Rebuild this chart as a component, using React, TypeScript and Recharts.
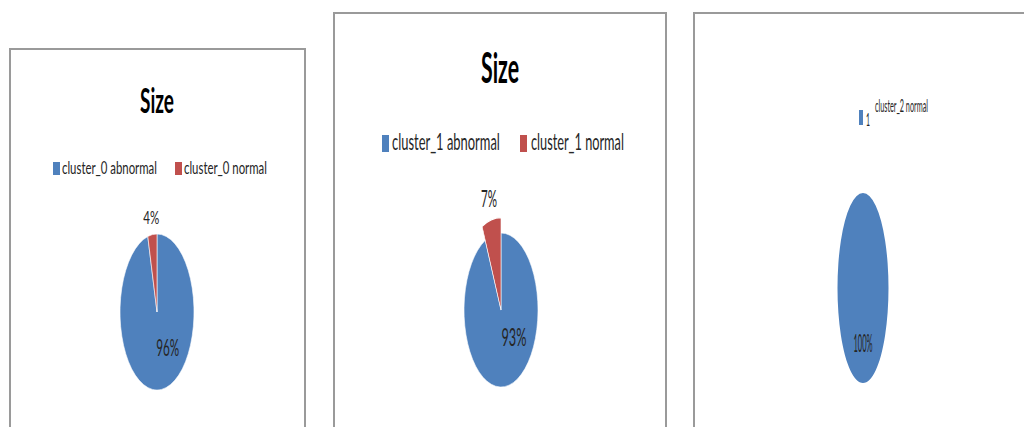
import { Cell, Pie, PieChart } from "recharts";

const FONT = "Lato, 'Open Sans', sans-serif";
const TEXT = "#262626";
const sliceColors = ["#4F81BD", "#C0504D"];

// chart data
const chartTitles = ["Size", "Size", ""];
const cluster0Names = ["cluster_0 abnormal", "cluster_0 normal"];
const cluster0Values = [96, 4];
const cluster1Names = ["cluster_1 abnormal", "cluster_1 normal"];
const cluster1Values = [93, 7];
const cluster2Names = ["1"];
const cluster2Values = [100];
const cluster2Series = "cluster_2 normal";

type Slice = { name: string; value: number };
const toSlices = (names: string[], values: number[]): Slice[] =>
  names.map((name, i) => ({ name, value: values[i] }));

type PieSpec = {
  data: Slice[];
  cx: number;
  cy: number;
  rx: number;
  ry: number;
  explode?: number;
  explodeScale?: number;
  inside: [number, number];
  labelFont: number[];
  labelWidth: number[];
};

const pies: PieSpec[] = [
  {
    data: toSlices(cluster0Names, cluster0Values),
    cx: 157, cy: 312, rx: 37, ry: 78,
    inside: [0.29, 0.45], labelFont: [23, 18], labelWidth: [23, 16],
  },
  {
    data: toSlices(cluster1Names, cluster1Values),
    cx: 501, cy: 310, rx: 37, ry: 77,
    explode: 1, explodeScale: 1.2,
    inside: [0.35, 0.34], labelFont: [25, 23], labelWidth: [25, 16],
  },
  {
    data: toSlices(cluster2Names, cluster2Values),
    cx: 862.5, cy: 288, rx: 25.5, ry: 95,
    inside: [0, 0.57], labelFont: [25], labelWidth: [19],
  },
];

const panels = [
  { left: 9, top: 48, width: 297 },
  { left: 333, top: 12, width: 334 },
  { left: 693, top: 12, width: 420 },
];

const titles = [
  { x: 157, y: 113, size: 35, w: 34 },
  { x: 500, y: 83, size: 42, w: 38 },
];

type LegendLayout = {
  names: string[];
  top: number; h: number; w: number; font: number; baseline: number;
  items: { sx: number; tx: number; tw: number }[];
};

const legends: LegendLayout[] = [
  {
    names: cluster0Names, top: 162, h: 13, w: 7, font: 18, baseline: 174,
    items: [{ sx: 53, tx: 62, tw: 95 }, { sx: 175, tx: 184, tw: 83 }],
  },
  {
    names: cluster1Names, top: 135, h: 17, w: 7, font: 24, baseline: 150,
    items: [{ sx: 382, tx: 392, tw: 108 }, { sx: 520, tx: 531, tw: 93 }],
  },
  {
    names: cluster2Names, top: 110, h: 15, w: 4, font: 17, baseline: 126,
    items: [{ sx: 859, tx: 866, tw: 4 }],
  },
];

const D = 300;

let ctx: CanvasRenderingContext2D | null = null;
function measure(text: string, size: number, bold = false) {
  if (!ctx) ctx = document.createElement("canvas").getContext("2d");
  if (!ctx) return text.length * size * 0.5;
  ctx.font = `${bold ? "bold " : ""}${size}px ${FONT}`;
  return ctx.measureText(text).width || text.length * size * 0.5;
}

// svg text squeezed horizontally to a target width
function FitText({
  x, y, text, size, width, bold, anchor = "start", baseline, fill = TEXT, extraScale = 1,
}: {
  x: number; y: number; text: string; size: number; width: number; bold?: boolean;
  anchor?: "start" | "middle"; baseline?: "central"; fill?: string; extraScale?: number;
}) {
  const k = width / measure(text, size, bold) / extraScale;
  return (
    <text
      transform={`translate(${x},${y}) scale(${k},1)`}
      textAnchor={anchor}
      dominantBaseline={baseline}
      fontFamily={FONT}
      fontWeight={bold ? "bold" : "normal"}
      fontSize={size}
      fill={fill}
    >
      {text}
    </text>
  );
}

function EllipsePie({ spec }: { spec: PieSpec }) {
  const sx = spec.rx / spec.ry;
  const RAD = Math.PI / 180;
  const single = spec.data.length < 2;
  const renderLabel = (props: any) => {
    const { cx, cy, midAngle, outerRadius, percent, index } = props;
    let x: number;
    let y: number;
    if (percent < 0.5) {
      const r = outerRadius * (index === spec.explode ? spec.explodeScale ?? 1 : 1) * 1.235;
      x = cx + r * Math.cos(-midAngle * RAD);
      y = cy + r * Math.sin(-midAngle * RAD);
    } else {
      x = cx + spec.inside[0] * outerRadius;
      y = cy + spec.inside[1] * outerRadius;
    }
    return (
      <FitText
        x={x}
        y={y}
        text={`${Math.round(percent * 100)}%`}
        size={spec.labelFont[index]}
        width={spec.labelWidth[index]}
        extraScale={sx}
        anchor="middle"
        baseline="central"
      />
    );
  };

  return (
    <div
      style={{
        position: "absolute",
        left: spec.cx - D / 2,
        top: spec.cy - D / 2,
        width: D,
        height: D,
        transform: `scaleX(${sx})`,
        transformOrigin: "center",
      }}
    >
      <PieChart width={D} height={D} margin={{ top: 0, right: 0, bottom: 0, left: 0 }}>
        <Pie
          data={spec.data}
          dataKey="value"
          nameKey="name"
          cx="50%"
          cy="50%"
          outerRadius={spec.ry}
          startAngle={90}
          endAngle={-270}
          label={renderLabel}
          labelLine={false}
          isAnimationActive={false}
        >
          {spec.data.map((d, i) => (
            <Cell
              key={d.name}
              fill={i === spec.explode ? "transparent" : sliceColors[i]}
              stroke={i === spec.explode || single ? "none" : "#fff"}
              strokeWidth={0.8}
            />
          ))}
        </Pie>
        {spec.explode !== undefined && (
          <Pie
            data={spec.data}
            dataKey="value"
            nameKey="name"
            cx="50%"
            cy="50%"
            outerRadius={spec.ry * (spec.explodeScale ?? 1)}
            startAngle={90}
            endAngle={-270}
            isAnimationActive={false}
          >
            {spec.data.map((d, i) => (
              <Cell
                key={d.name}
                fill={i === spec.explode ? sliceColors[i] : "transparent"}
                stroke={i === spec.explode ? "#fff" : "none"}
                strokeWidth={1.2}
              />
            ))}
          </Pie>
        )}
      </PieChart>
    </div>
  );
}

export default function App() {
  return (
    <div
      style={{
        position: "absolute",
        left: 0,
        top: 0,
        width: 1024,
        height: 427,
        overflow: "hidden",
        background: "#fff",
      }}
    >
      {panels.map((p, i) => (
        <div
          key={i}
          style={{
            position: "absolute",
            left: p.left,
            top: p.top,
            width: p.width,
            height: 500,
            border: "2px solid #9a9a9a",
            boxSizing: "border-box",
          }}
        />
      ))}
      {pies.map((p, i) => (
        <EllipsePie key={i} spec={p} />
      ))}
      <svg
        width={1024}
        height={427}
        style={{ position: "absolute", left: 0, top: 0, pointerEvents: "none" }}
      >
        {titles.map((t, i) => (
          <FitText
            key={i}
            x={t.x}
            y={t.y}
            text={chartTitles[i]}
            size={t.size}
            width={t.w}
            bold
            anchor="middle"
            fill="#000"
          />
        ))}
        {legends.map((lg, li) =>
          lg.items.map((it, i) => (
            <g key={`${li}-${i}`}>
              <rect x={it.sx} y={lg.top} width={lg.w} height={lg.h} fill={sliceColors[i]} />
              <FitText x={it.tx} y={lg.baseline} text={lg.names[i]} size={lg.font} width={it.tw} />
            </g>
          ))
        )}
        <FitText x={875} y={112} text={cluster2Series} size={17} width={53} />
      </svg>
    </div>
  );
}
